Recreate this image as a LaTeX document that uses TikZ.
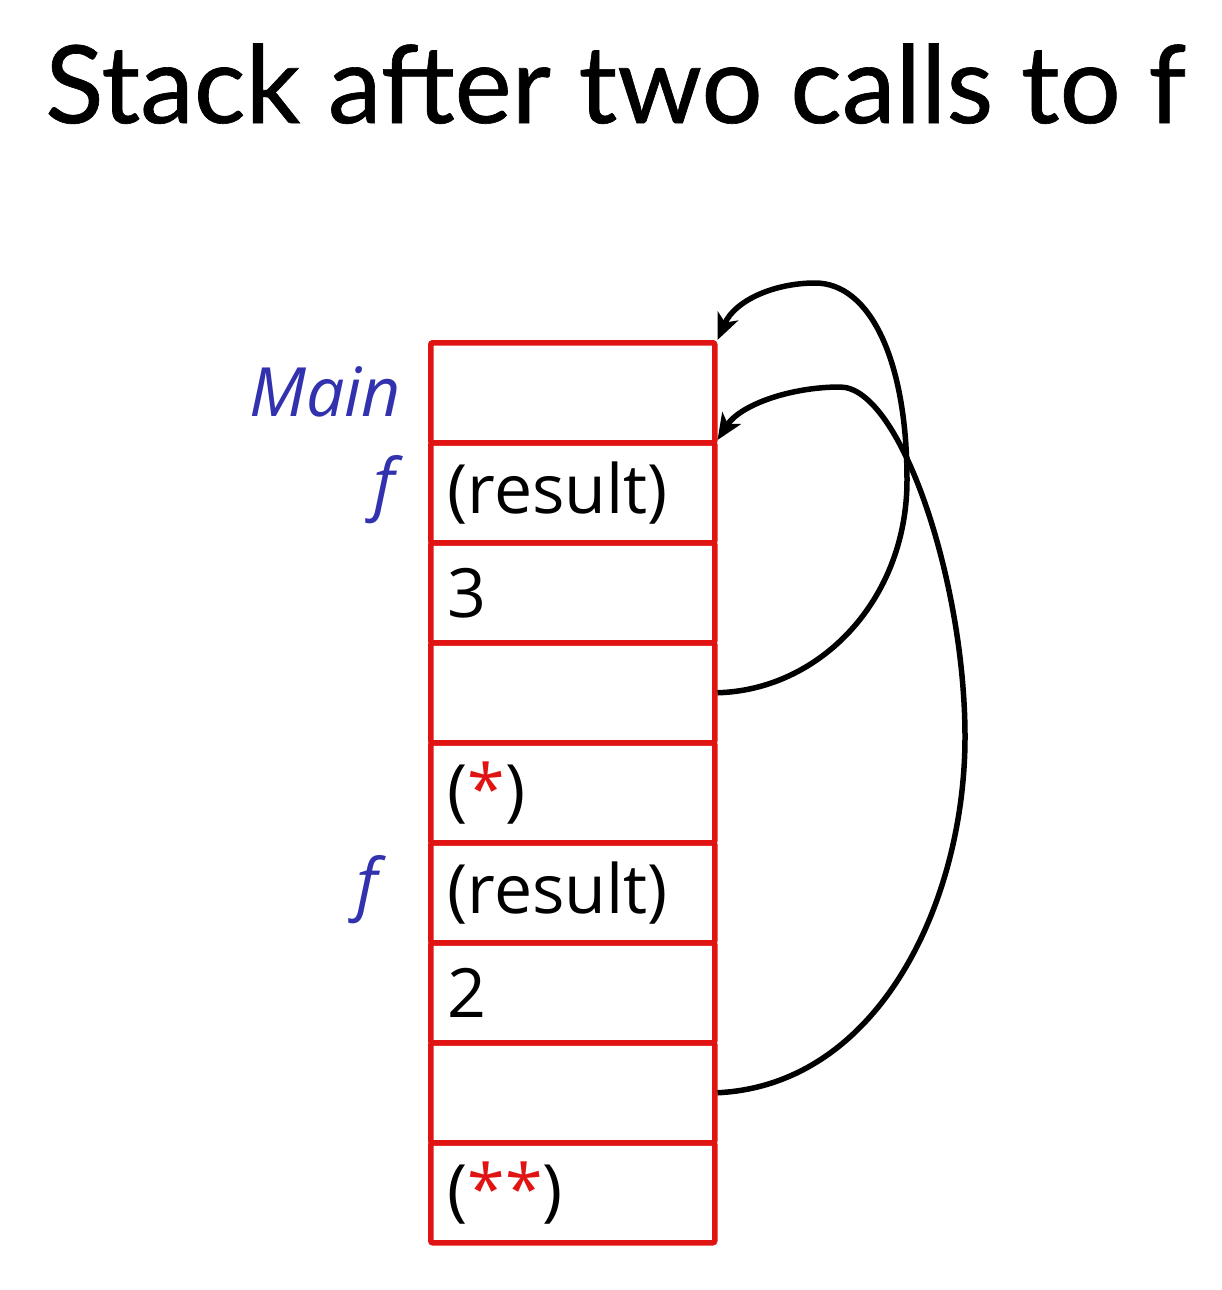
\documentclass[tikz,border=0pt]{standalone}
\usepackage{fontspec}
\setmainfont{Lato}
\newfontfamily\boxfont{Open Sans}
\usetikzlibrary{arrows.meta}
\definecolor{stackred}{RGB}{225,20,20}
\definecolor{lblblue}{RGB}{50,50,175}
\tikzset{
  cell/.style={draw=stackred, line width=5.5pt, rounded corners=2pt, minimum width=284pt, minimum height=100pt,
    text width=250pt, inner xsep=17pt, align=left, anchor=north west, font=\boxfont\fontsize{68}{74}\selectfont},
  lbl/.style={text=lblblue, anchor=east, inner sep=0pt, font=\boxfont\itshape\fontsize{68}{74}\selectfont},
  link/.style={draw=black, line width=5.5pt, -{Stealth[length=26pt,width=22pt,inset=7pt]}}
}
\begin{document}
\begin{tikzpicture}[x=1pt,y=-1pt]
\useasboundingbox (0,0) rectangle (1222,1290);
\node[anchor=base west, inner sep=0pt, font=\fontsize{108}{114}\selectfont\addfontfeature{FakeBold=0.6}] (title) at (45,123) {Stack after two calls to f};

\node[cell] (b1) at (428,340) {\strut};
\node[cell] (b2) at (428,440) {(result)};
\node[cell] (b3) at (428,540) {3};
\node[cell] (b4) at (428,640) {\strut};
\node[cell] (b5) at (428,740) {(\textcolor{stackred}{*})};
\node[cell] (b6) at (428,840) {(result)};
\node[cell] (b7) at (428,940) {2};
\node[cell] (b8) at (428,1040) {\strut};
\node[cell] (b9) at (428,1140) {(\textcolor{stackred}{**})};

\node[lbl] (lmain) at (401,392) {Main};
\node[lbl] (lf1) at (395,490) {f};
\node[lbl] (lf2) at (378,890) {f};

\draw[link] (b4.east) .. controls (820,690) and (907,600) .. (907,480)
   .. controls (907,360) and (870,283) .. (815,283)
   .. controls (775,283) and (735,300) .. (b1.north east);
\draw[link] (b8.east) .. controls (880,1085) and (965,900) .. (965,737)
   .. controls (965,580) and (900,387) .. (840,387)
   .. controls (790,387) and (740,405) .. (b2.north east);
\end{tikzpicture}
\end{document}
